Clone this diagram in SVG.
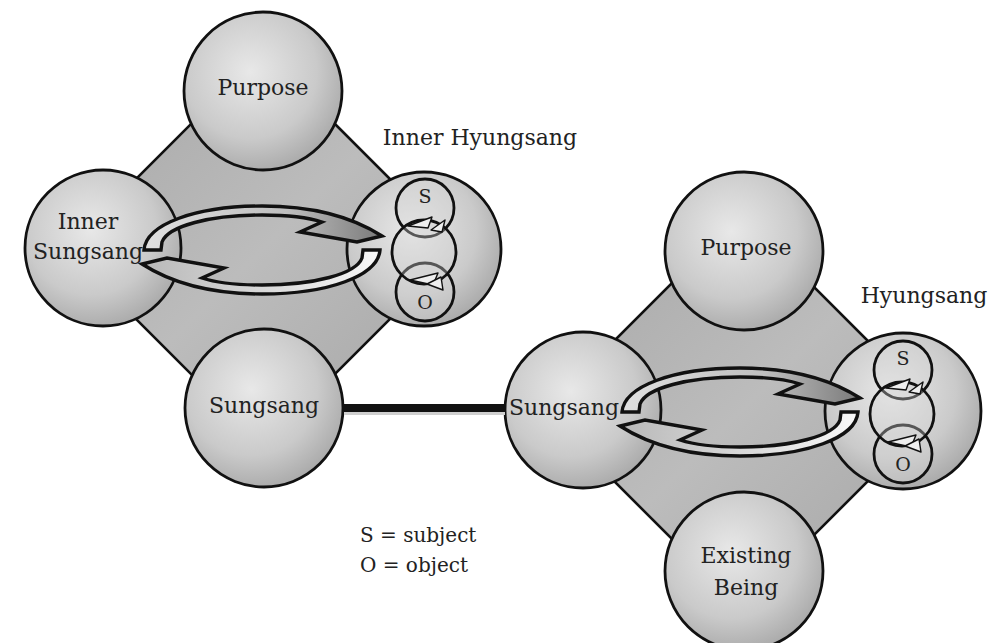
<svg xmlns="http://www.w3.org/2000/svg" width="997" height="643" viewBox="0 0 997 643">
  <defs>
    <radialGradient id="ballFill" cx="0.42" cy="0.38" r="0.7">
      <stop offset="0" stop-color="#e8e8e8"/>
      <stop offset="0.6" stop-color="#cacaca"/>
      <stop offset="1" stop-color="#a2a2a2"/>
    </radialGradient>
    <linearGradient id="diamondFill" x1="0" y1="0" x2="1" y2="1">
      <stop offset="0" stop-color="#a6a6a6"/>
      <stop offset="0.5" stop-color="#bcbcbc"/>
      <stop offset="1" stop-color="#a4a4a4"/>
    </linearGradient>
    <linearGradient id="bandTop" x1="0" y1="0" x2="1" y2="0">
      <stop offset="0" stop-color="#e0e0e0"/>
      <stop offset="0.6" stop-color="#bfbfbf"/>
      <stop offset="1" stop-color="#7a7a7a"/>
    </linearGradient>
    <linearGradient id="bandBottom" x1="1" y1="0" x2="0" y2="0">
      <stop offset="0" stop-color="#b8b8b8"/>
      <stop offset="0.6" stop-color="#dedede"/>
      <stop offset="1" stop-color="#f8f8f8"/>
    </linearGradient>
    <!-- curved band arrow, drawn around its loop centre -->
    <path id="loopArrow" d="M -118,0 C -116,-26 -66,-44 0,-44 C 52,-44 92,-32 120,-14 L 95,-8 L 38,-18 L 60,-28 C 45,-33 22,-35 0,-35 C -52,-35 -94,-24 -100,-8 L -101,0 Z"/>
    <!-- the three small subject / object rings with their turning tips -->
    <g id="soRings">
      <circle cx="0" cy="-42" r="29" class="ring"/>
      <circle cx="0" cy="42" r="29" class="ring"/>
      <circle cx="-1" cy="2" r="32" class="ring"/>
      <path d="M -17,-24 L 7,-33 L 3,-22 Z" class="tip"/>
      <path d="M 6,-20 L 20,-30 L 17,-18 Z" class="tip"/>
      <path d="M -15,30 L 13,23 L 8,35 Z" class="tip"/>
      <path d="M 2,34 L 16,27 L 18,40 Z" class="tip"/>
    </g>
  </defs>
  <style>
    .ball { fill: url(#ballFill); stroke: #111; stroke-width: 2.8; }
    .diamond { fill: url(#diamondFill); stroke: #111; stroke-width: 2.6; stroke-linejoin: miter; }
    .ring { fill: #d6d6d6; fill-opacity: 0.35; stroke: #111; stroke-width: 2.8; }
    .tip { fill: #eeeeee; stroke: #111; stroke-width: 1.4; stroke-linejoin: round; }
    .arrowTop { fill: url(#bandTop); stroke: #111; stroke-width: 3.4; stroke-linejoin: miter; }
    .arrowBottom { fill: url(#bandBottom); stroke: #111; stroke-width: 3.4; stroke-linejoin: miter; }
    .label { font-family: "DejaVu Serif", "Liberation Serif", serif; font-size: 22px; fill: #222; text-anchor: middle; }
    .small { font-family: "DejaVu Serif", "Liberation Serif", serif; font-size: 19px; fill: #222; text-anchor: middle; }
    .legend { font-family: "DejaVu Serif", "Liberation Serif", serif; font-size: 20px; fill: #222; }
  </style>

  <rect x="0" y="0" width="997" height="643" fill="#ffffff"/>

  <!-- diamond plates behind each group of four -->
  <g id="plate-inner">
    <polygon class="diamond" points="263,52 460,249 263,446 66,249"/>
  </g>
  <g id="plate-outer">
    <polygon class="diamond" points="741,214 938,411 741,608 544,411"/>
  </g>

  <!-- inner (left) group -->
  <g id="node-inner-purpose">
    <circle class="ball" cx="263" cy="91" r="79"/>
    <text class="label" x="263" y="95">Purpose</text>
  </g>
  <g id="node-inner-sungsang">
    <circle class="ball" cx="103" cy="248" r="78"/>
    <text class="label" x="88" y="229">Inner</text>
    <text class="label" x="88" y="259">Sungsang</text>
  </g>
  <g id="node-inner-hyungsang">
    <circle class="ball" cx="424" cy="249" r="77"/>
    <use href="#soRings" x="425" y="250"/>
    <text class="small" x="425" y="203">S</text>
    <text class="small" x="425" y="309">O</text>
    <text class="label" x="480" y="145">Inner Hyungsang</text>
  </g>
  <g id="node-sungsang">
    <circle class="ball" cx="264" cy="408" r="79"/>
    <text class="label" x="264" y="413">Sungsang</text>
  </g>

  <!-- outer (right) group -->
  <g id="node-purpose">
    <circle class="ball" cx="744" cy="251" r="79"/>
    <text class="label" x="746" y="255">Purpose</text>
  </g>
  <g id="node-sungsang-outer">
    <circle class="ball" cx="583" cy="410" r="78"/>
    <text class="label" x="564" y="415">Sungsang</text>
  </g>
  <g id="node-hyungsang">
    <circle class="ball" cx="903" cy="411" r="78"/>
    <use href="#soRings" x="903" y="412"/>
    <text class="small" x="903" y="365">S</text>
    <text class="small" x="903" y="471">O</text>
    <text class="label" x="924" y="303">Hyungsang</text>
  </g>
  <g id="node-existing-being">
    <circle class="ball" cx="744" cy="571" r="79"/>
    <text class="label" x="746" y="563">Existing</text>
    <text class="label" x="746" y="595">Being</text>
  </g>

  <!-- connectors: the link between the two Sungsang and the give-and-take loops -->
  <g id="connectors">
    <line x1="344" y1="411" x2="505" y2="411" stroke="#cfcfcf" stroke-width="8"/>
    <line x1="343" y1="408" x2="505" y2="408" stroke="#111" stroke-width="8"/>
    <g transform="translate(262,250)">
      <use href="#loopArrow" class="arrowTop"/>
      <use href="#loopArrow" class="arrowBottom" transform="rotate(180)"/>
    </g>
    <g transform="translate(740,412)">
      <use href="#loopArrow" class="arrowTop"/>
      <use href="#loopArrow" class="arrowBottom" transform="rotate(180)"/>
    </g>
  </g>

  <!-- key -->
  <g id="legend">
    <text class="legend" x="360" y="542">S = subject</text>
    <text class="legend" x="360" y="572">O = object</text>
  </g>
</svg>
